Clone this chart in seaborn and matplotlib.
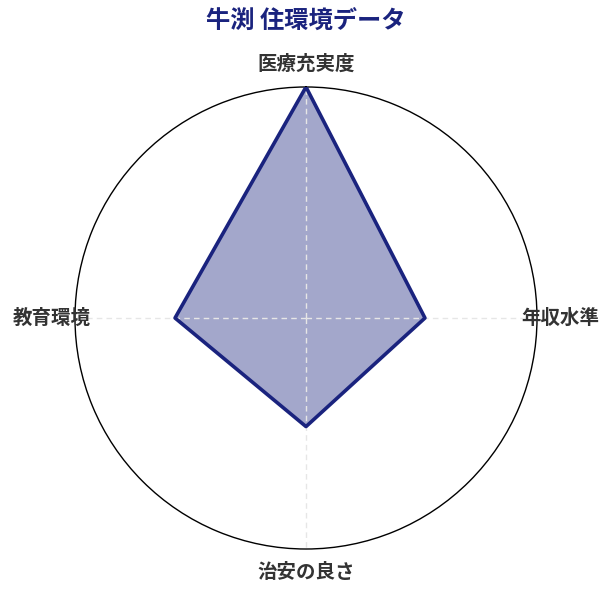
import numpy as np
import matplotlib
matplotlib.use("Agg")
import matplotlib.pyplot as plt
import seaborn as sns

# data
categories = ["医療充実度", "年収水準", "治安の良さ", "教育環境"]
values = [1.0, 0.515, 0.47, 0.567]
title = "牛渕 住環境データ"

sns.set_theme(style="white")
plt.rcParams["font.family"] = ["Noto Sans CJK JP", "DejaVu Sans"]

navy = "#1a237e"

fig = plt.figure(figsize=(6.12, 5.95), dpi=100)
ax = fig.add_axes([0.1225, 0.0773, 0.755, 0.7765], projection="polar")
ax.set_theta_offset(np.pi / 2)
ax.set_theta_direction(-1)

angles = np.linspace(0, 2 * np.pi, len(categories), endpoint=False)
a_closed = np.concatenate([angles, angles[:1]])
v_closed = np.concatenate([values, values[:1]])

ax.fill(a_closed, v_closed, color=navy, alpha=0.4, zorder=2)
ax.plot(a_closed, v_closed, color=navy, lw=2.6, zorder=4)

ax.set_ylim(0, 1)
ax.set_yticks([])
ax.set_xticks(angles)
ax.set_xticklabels([])
ax.xaxis.grid(True, ls=(0, (4, 3)), color="#e6e6e6", lw=1, zorder=3)
ax.yaxis.grid(False)
ax.set_axisbelow(False)
ax.spines["polar"].set_color("black")
ax.spines["polar"].set_linewidth(1)

for ang, lab in zip(angles, categories):
    ax.text(ang, 1.1, lab, ha="center", va="center", fontsize=14,
            fontweight="bold", color="#333333", clip_on=False)

fig.text(0.5, 0.963, title, ha="center", va="center", fontsize=17.5,
         fontweight="bold", color=navy)

fig.savefig("out.png", dpi=100)
plt.close(fig)
